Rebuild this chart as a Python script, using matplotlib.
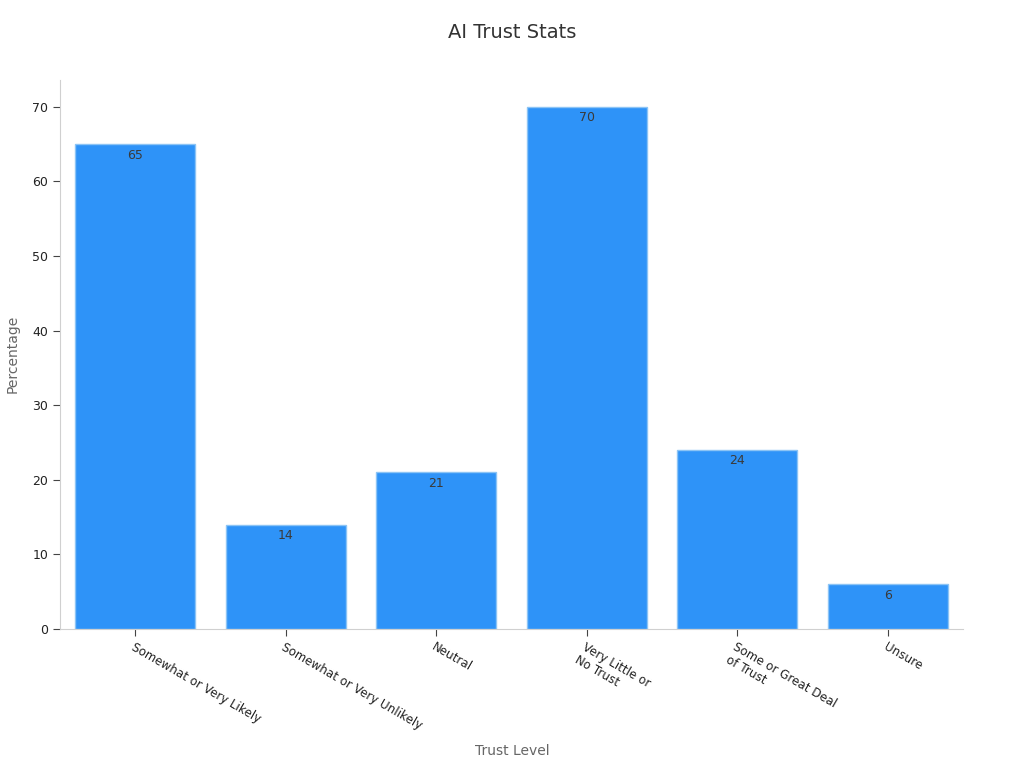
import matplotlib
matplotlib.use("Agg")
import matplotlib.pyplot as plt

categories = ["Somewhat or Very Likely", "Somewhat or Very Unlikely", "Neutral",
              "Very Little or\nNo Trust", "Some or Great Deal\nof Trust", "Unsure"]
values = [65, 14, 21, 70, 24, 6]
yticks = [0, 10, 20, 30, 40, 50, 60, 70]

plt.rcParams['font.family'] = ['DejaVu Sans']
fig = plt.figure(figsize=(10.24, 7.68), dpi=100)
ax = fig.add_axes([60/1024, 1-629/768, (963-60)/1024, (629-80)/768])

x = list(range(len(categories)))
bars = ax.bar(x, values, width=0.8, color="#2E93F8", edgecolor="#8CC4F5", linewidth=1)
for xi, v in zip(x, values):
    ax.text(xi, v - 0.6, str(v), ha="center", va="top", fontsize=9, color="#3a3a3a")

ax.set_xlim(-0.5, 5.5)
ax.set_ylim(0, 73.6)
ax.set_yticks(yticks)
ax.set_xticks(x)
ax.set_xticklabels(categories, rotation=-30, ha="left", rotation_mode="anchor",
                   fontsize=8.6, color="#222222")
ax.tick_params(axis="y", labelsize=9, colors="#222222", length=5, color="#444444")
ax.tick_params(axis="x", length=5, color="#444444")
for s in ["top", "right"]:
    ax.spines[s].set_visible(False)
for s in ["left", "bottom"]:
    ax.spines[s].set_color("#d0d0d0")

ax.set_ylabel("Percentage", fontsize=10, color="#666666")
ax.yaxis.set_label_coords((20-60)/(963-60), (629-354)/(629-80))
ax.set_xlabel("Trust Level", fontsize=10, color="#666666")
ax.xaxis.set_label_coords((512-60)/(963-60), (629-744)/(629-80))
fig.text(0.5, 1-33/768, "AI Trust Stats", ha="center", va="center", fontsize=14, color="#333333")

fig.savefig("out.png", dpi=100)
